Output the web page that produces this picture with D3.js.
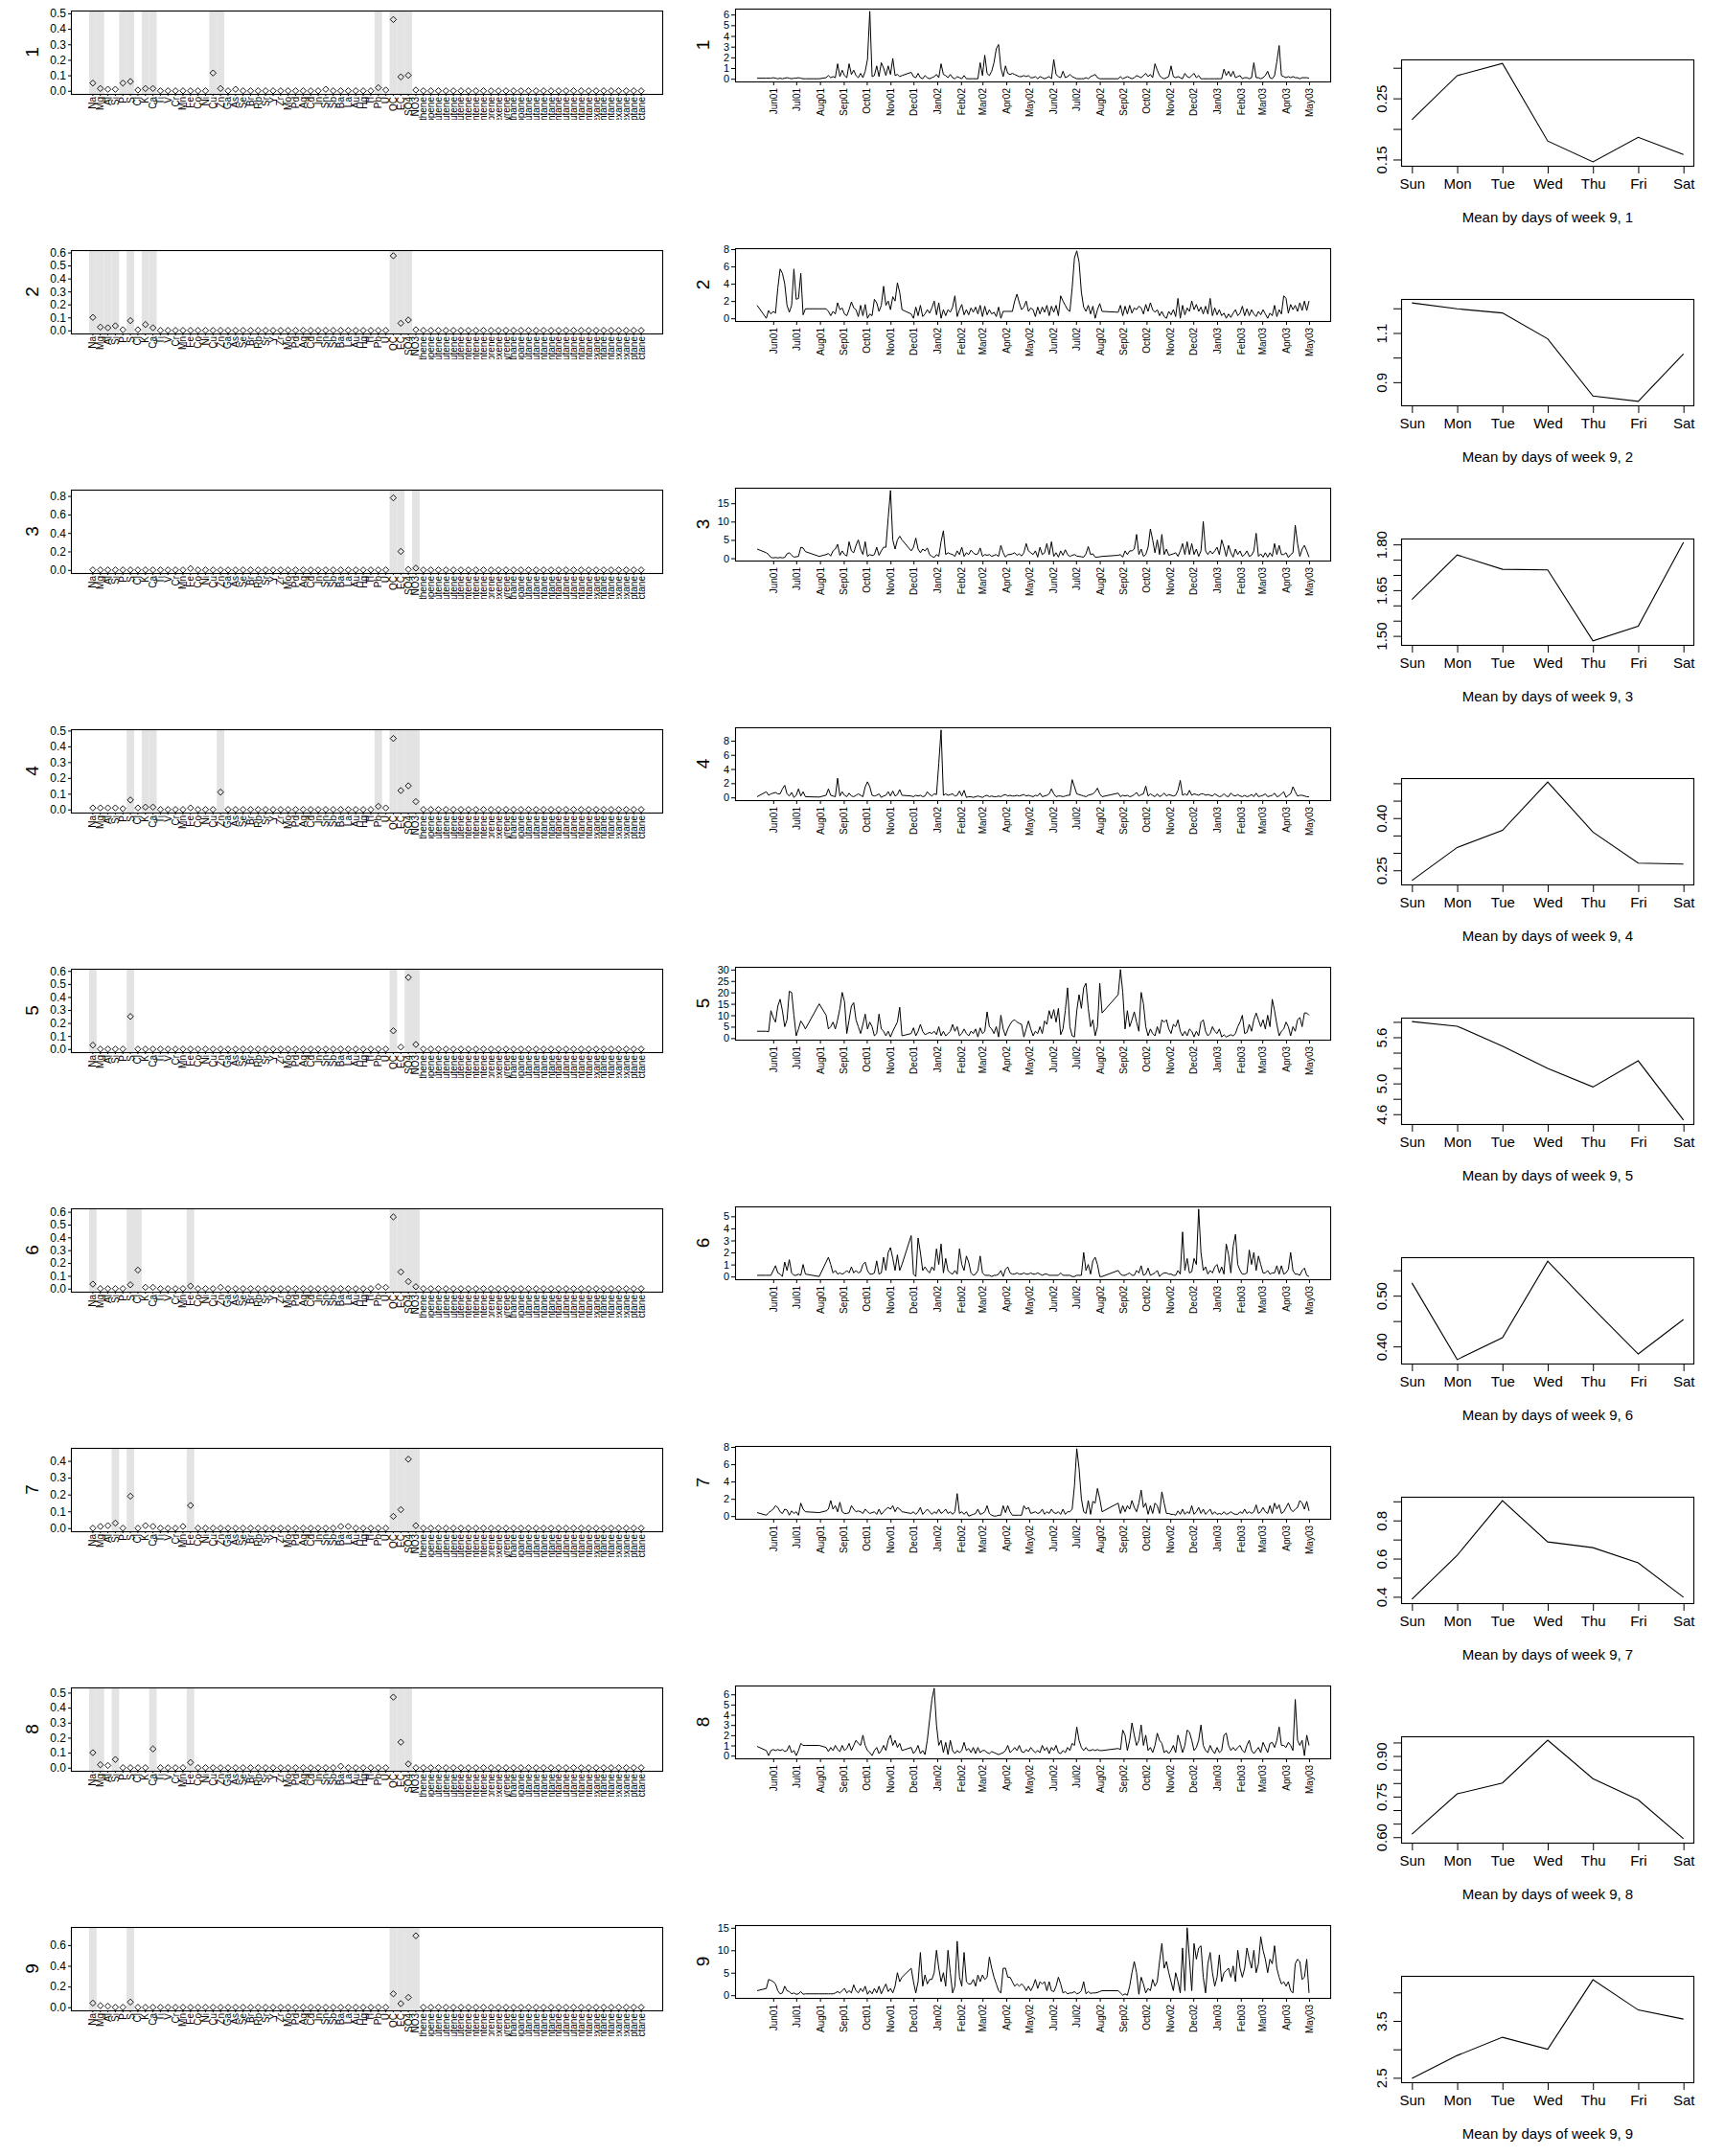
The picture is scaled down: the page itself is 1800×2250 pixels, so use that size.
<!DOCTYPE html>
<html><head><meta charset="utf-8">
<script src="https://cdn.jsdelivr.net/npm/d3@7"></script>
<style>
html,body{margin:0;padding:0;background:#fff;}
svg{display:block;font-family:"Liberation Sans",Arial,Helvetica,sans-serif;}
</style></head><body>
<svg id="chart" width="1800" height="2250"></svg>
<script>
// ---------------- DATA ----------------
const factorNames = ["1","2","3","4","5","6","7","8","9"];

const species = ["Na","Mg","Al","Si","P","S","Cl","K","Ca",
  "Ti","V","Cr","Mn","Fe","Co","Ni",
  "Cu","Zn","Ga","As",
  "Se","Br","Rb","Sr","Y","Zr","Mo","Pd","Ag","Cd",
  "In","Sn","Sb","Ba","La","Au","Hg","Tl","Pb","U",
  "OC","EC","SO4","NO3",
  "ethene","propene","1-butene","isobutene","t-2-butene","c-2-butene","1-pentene","t-2-pentene","c-2-pentene","isoprene",
  "1-hexene","styrene","ethane","propane","isobutane","n-butane","isopentane","n-pentane","cyclopentane","2,2-dimethylbutane",
  "2,3-dimethylbutane","2-methylpentane","3-methylpentane","n-hexane","methylcyclopentane","2,4-dimethylpentane","cyclohexane","2-methylhexane","n-heptane","n-octane"];

// factor profiles (fraction of species), one array per factor
const profile1 = [.05,.015,.01,.01,.05,.06,.005,.015,.015, 0,0,0,0,0,0,0, .115,.015,0,.01, 0,0,0,0,0,0,0,0,0,0, 0,.01,0,0,0,0,0,0,.02,.005, .46,.09,.10,.005,
  0,0,0,0,0,0,0,0,0,0, 0,0,0,0,0,0,0,0,0,0, 0,0,0,0,0,0,0,0,0,0];
const profile2 = [.10,.025,.02,.035,.005,.075,.005,.045,.02, 0,0,0,0,0,0,0, 0,0,0,0, 0,0,0,0,0,0,0,0,0,0, 0,0,0,0,0,0,0,0,0,0, .575,.055,.08,.005,
  0,0,0,0,0,0,0,0,0,0, 0,0,0,0,0,0,0,0,0,0, 0,0,0,0,0,0,0,0,0,0];
const profile3 = [0,0,0,0,0,0,0,0,0, 0,0,0,0,.015,0,0, 0,0,0,0, 0,0,0,0,0,0,0,0,0,0, 0,0,0,0,0,0,0,0,0,0, .78,.20,.005,.02,
  0,0,0,0,0,0,0,0,0,0, 0,0,0,0,0,0,0,0,0,0, 0,0,0,0,0,0,0,0,0,0];
const profile4 = [.01,.01,.01,.01,.005,.06,.01,.015,.015, 0,0,0,0,.01,0,0, 0,.11,0,0, 0,0,0,0,0,0,0,0,0,0, 0,0,0,0,0,0,0,0,.02,.01, .45,.12,.15,.05,
  0,0,0,0,0,0,0,0,0,0, 0,0,0,0,0,0,0,0,0,0, 0,0,0,0,0,0,0,0,0,0];
const profile5 = [.03,0,0,0,0,.25,0,0,0, 0,0,0,0,0,0,0, 0,0,0,0, 0,0,0,0,0,0,0,0,0,0, 0,0,0,0,0,0,0,0,0,0, .14,.015,.55,.035,
  0,0,0,0,0,0,0,0,0,0, 0,0,0,0,0,0,0,0,0,0, 0,0,0,0,0,0,0,0,0,0];
const profile6 = [.035,0,0,0,0,.03,.145,.01,.01, 0,0,0,0,.02,0,0, 0,.01,0,0, 0,0,0,0,0,0,0,0,0,0, 0,0,0,0,0,0,0,0,.015,.01, .56,.13,.055,.015,
  0,0,0,0,0,0,0,0,0,0, 0,0,0,0,0,0,0,0,0,0, 0,0,0,0,0,0,0,0,0,0];
const profile7 = [0,.01,.015,.03,0,.19,0,.015,.01, 0,0,0,.01,.135,0,0, 0,0,0,0, 0,0,0,0,0,0,0,0,0,0, 0,0,0,.01,.01,0,0,0,0,0, .07,.11,.41,.015,
  0,0,0,0,0,0,0,0,0,0, 0,0,0,0,0,0,0,0,0,0, 0,0,0,0,0,0,0,0,0,0];
const profile8 = [.10,.02,.015,.055,0,0,0,0,.125, 0,0,0,0,.035,0,0, 0,0,0,0, 0,0,0,0,0,0,0,0,0,0, 0,0,0,.01,0,0,0,0,0,0, .47,.17,.025,0,
  0,0,0,0,0,0,0,0,0,0, 0,0,0,0,0,0,0,0,0,0, 0,0,0,0,0,0,0,0,0,0];
const profile9 = [.04,.015,.01,0,0,.05,0,0,0, 0,0,0,0,0,0,0, 0,0,0,0, 0,0,0,0,0,0,0,0,0,0, 0,0,0,0,0,0,0,0,0,0, .13,.035,.095,.69,
  0,0,0,0,0,0,0,0,0,0, 0,0,0,0,0,0,0,0,0,0, 0,0,0,0,0,0,0,0,0,0];
const profiles = [profile1,profile2,profile3,profile4,profile5,profile6,profile7,profile8,profile9];

// upper y limit of each profile panel
const profileYMax = [0.498,0.595,0.835,0.489,0.593,0.603,0.459,0.514,0.745];

// shaded (key) species per factor
const profileHighlights = [
  ["Na","Mg","P","S","K","Ca","Cu","Zn","Pb","OC","EC","SO4"],
  ["Na","Mg","Al","Si","S","K","Ca","OC","EC","SO4"],
  ["OC","EC","NO3"],
  ["S","K","Ca","Zn","Pb","OC","EC","SO4","NO3"],
  ["Na","S","OC","SO4","NO3"],
  ["Na","S","Cl","Fe","OC","EC","SO4","NO3"],
  ["Si","S","Fe","OC","EC","SO4","NO3"],
  ["Na","Mg","Si","Ca","Fe","OC","EC","SO4"],
  ["Na","S","OC","EC","SO4","NO3"]
];

// time series: samples every 3rd day starting 2001-05-11 (null = no sample)
const sampleStart = "2001-05-11";
const sampleStepDays = 3;
const monthTicks = ["2001-06-01","2001-07-01","2001-08-01","2001-09-01","2001-10-01","2001-11-01","2001-12-01",
  "2002-01-01","2002-02-01","2002-03-01","2002-04-01","2002-05-01","2002-06-01","2002-07-01","2002-08-01","2002-09-01",
  "2002-10-01","2002-11-01","2002-12-01","2003-01-01","2003-02-01","2003-03-01","2003-04-01","2003-05-01"];

const series1 = [
0.05,null,null,null,0.05,0.05,0.05,0.1,0.05,0,
0.05,0,0.05,0.1,0.05,0,0.05,0.05,0.1,0.05,
0,0,null,null,null,null,null,0,null,null,
0.1,0.3,0.1,0.2,0.1,1.4,0.2,0.8,0.3,0.1,
1.4,0.4,0.8,0.3,0.1,0.5,0.1,0.7,1.8,6.3,
0.2,0.3,1.2,0.2,1.5,1.0,0.3,1.2,0.4,1.9,
0.3,0.4,0.2,0.3,null,null,null,0.6,0.2,0.1,
0.5,0.1,0,0.3,0.1,0,0.1,0.2,0.4,0.1,
1.4,0.4,0.3,0.1,0.4,0.1,0,0.2,0.1,0,
0.3,0,0,0,0,0,0,1.5,0.3,2.2,
0.5,0.3,0.7,1.5,2.8,3.2,1.0,0.2,1.2,0.5,
0.4,0.5,0.4,0.3,0.2,0.2,0.3,0.2,0.3,0.1,
0.1,0.2,0,0.2,0.1,0,0.1,0.2,0,1.8,
0.4,0.2,0.1,0.7,0.1,0.2,0.4,0.2,0.1,0,
0,0,0,0.1,0,0.2,0.3,0.4,0.1,0,
0,null,null,null,null,null,null,0,0.2,0,
0.1,0.2,0.1,0,0.1,0.3,0.2,0.1,0.3,0.5,
0.2,0.4,0.1,1.4,0.8,0.3,0.1,0,0.1,0.2,
1.2,0.2,0.1,0.2,0.1,0,0.5,0.2,0.1,0.3,
0.5,0.1,0.3,0,0,0,0,0,0,0,
0,0,0,0.9,0.3,0.7,0.2,0.7,0.1,0.2,
0.3,0,0.1,0.1,0,0.1,1.5,0.1,0.1,0,
0.1,0.3,0.7,0.1,0,0.3,1.6,3.1,0.3,0.2,
0.1,0.2,0.1,0.2,0.1,0.1,0,0.1,0.1,0.1,
0.05];
const series2 = [
1.5,null,null,null,0.0,0.9,0.5,0.8,0.6,3.5,
5.7,5.2,4.0,1.5,0.7,1.5,5.7,2.2,2.3,5.2,
0.4,1.1,null,null,null,null,null,1.1,null,null,
1.1,0.8,0.3,0.8,0.5,1.8,1.0,1.2,0.5,0.3,
1.0,1.9,1.2,1.0,0.2,1.5,0.3,1.6,0.0,0.5,
0.3,2.2,1.8,0.8,1.5,3.7,1.5,2.0,1.0,2.5,
2.0,4.1,3.0,1.0,null,null,null,0.5,0.0,1.3,
0.3,1.5,0.2,0.5,1.0,0.6,1.2,2.0,0.4,1.8,
0.0,1.0,0.3,1.0,0.7,1.3,2.6,0.2,1.0,1.6,
0.4,1.0,0.4,1.2,0.7,1.3,0.5,1.5,0.2,1.4,
0.4,1.0,0.5,0.7,0.2,1.3,0.0,0.8,0.8,0.8,
0.8,0.8,2.0,2.8,1.8,1.0,1.3,2.0,0.8,1.2,
1.0,0.2,1.3,0.5,1.3,0.7,1.5,0.3,1.4,0.7,
1.5,0.3,2.6,2.0,1.5,1.0,0.8,3.5,7.0,7.8,
6.5,3.0,1.3,0.8,1.5,0.5,1.4,0.0,1.0,1.7,
0.8,null,null,null,null,null,null,0.7,1.5,0.3,
1.4,0.5,1.5,0.6,1.2,1.0,1.4,1.2,0.5,1.6,
0.8,1.8,1.0,0.7,1.0,0.3,0.8,0.2,0.0,0.8,
0.4,1.0,0.2,2.3,0.0,1.5,0.4,1.2,0.8,2.0,
1.0,1.6,0.8,1.3,0.5,1.4,0.5,2.3,0.3,1.2,
0.4,1.0,0.3,0.6,0.0,0.5,0.1,0.6,1.0,0.3,
0.6,1.4,0.3,1.1,0.3,1.0,0.5,0.2,0.8,0.4,
1.0,0.5,0.0,0.6,0.3,1.5,0.2,1.0,0.5,2.6,
2.3,0.6,1.6,1.0,1.5,0.8,1.8,0.9,2.0,0.9,
2.0];
const series3 = [
2.5,null,null,null,1.5,1.0,0.2,0.1,0.2,0.1,
0.2,0.1,0.2,1.2,1.5,0.8,0.3,0.4,0.5,3.0,
2.8,1.8,null,null,null,null,null,0.5,null,null,
1.0,1.3,0.6,2.0,2.5,3.8,0.8,2.0,1.0,0.6,
4.5,2.0,1.5,3.5,5.0,2.5,1.0,4.5,0.5,1.0,
0.7,1.0,3.0,0.8,2.0,3.0,3.0,11.0,18.5,5.0,
2.5,5.0,6.0,5.0,null,null,null,2.0,3.0,5.5,
2.5,1.5,2.5,2.0,2.8,1.0,0.5,0.2,1.0,0.5,
4.5,7.5,1.0,1.5,1.2,1.0,0.5,2.0,1.0,3.0,
0.5,1.5,1.0,2.2,1.5,1.0,1.2,2.8,0.5,1.0,
0.8,1.0,0.5,0.8,1.0,0.5,3.5,1.5,0.3,1.0,
1.0,1.2,1.5,0.8,1.2,0.6,1.5,4.0,2.0,1.5,
1.0,2.0,0.3,3.0,1.0,1.5,4.0,1.0,4.5,0.5,
1.5,0.3,2.0,0.8,2.3,1.0,0.5,0.8,1.0,0.6,
0.5,0.4,0.3,1.2,3.2,1.0,1.2,0.3,0.3,0.4,
0.5,null,null,null,null,null,null,0.8,1.0,0.3,
2.0,1.0,2.0,2.0,2.5,6.5,1.0,2.5,0.5,1.0,
3.0,8.0,5.0,1.5,5.0,1.0,6.5,1.0,2.5,0.8,
1.0,1.2,1.5,0.5,2.0,4.0,1.0,4.5,1.0,4.0,
1.0,2.5,0.5,2.0,10.0,2.0,1.0,2.0,1.2,2.0,
3.0,1.0,5.0,3.0,0.5,3.5,1.5,0.3,2.5,1.0,
2.0,0.5,1.0,2.0,0.5,0.8,2.0,6.8,0.5,1.2,
0.3,1.5,0.3,1.5,0.5,4.0,1.0,3.5,1.0,1.0,
1.5,0.2,1.0,1.5,9.0,4.0,0.5,2.5,3.5,2.0,
0.3];
const series4 = [
0.1,null,null,null,0.8,0.3,0.5,0.6,0.7,0.5,
0.5,1.2,1.7,0.5,0.2,0.7,0.0,0.3,1.2,0.2,
0.8,0.1,null,null,null,null,null,0.05,null,null,
0.3,1.2,0.3,0.2,0.1,2.7,0.2,0.8,0.3,0.1,
0.6,0.2,0.1,0.3,0.5,0.3,0.1,1.5,2.2,1.5,
0.3,0.2,0.3,0.5,0.0,0.2,0.3,0.8,0.2,0.9,
0.2,0.4,1.1,0.3,null,null,null,0.2,0.1,0.3,
0.2,0.3,0.1,0.2,0.8,0.4,0.2,0.5,0.4,4.8,
9.5,0.3,0.5,0.3,0.4,0.5,0.2,0.3,0.9,0.2,
1.0,0.0,0.1,0.1,0.0,0.1,0.2,0.1,0.0,0.2,
0.3,0.1,0.2,0.1,0.1,0.2,0.1,0.3,0.4,0.2,
0.3,0.2,0.2,0.3,0.2,0.3,0.4,0.2,0.3,0.2,
0.1,0.3,0.2,0.6,0.1,0.2,0.3,0.5,1.2,0.5,
0.1,0.2,0.2,0.1,0.2,0.3,0.3,2.5,1.5,0.5,
0.4,0.3,0.2,0.1,0.3,0.4,0.5,0.8,1.3,0.5,
0.1,null,null,null,null,null,null,0.6,0.1,0.3,
0.2,0.3,0.1,0.2,0.4,0.7,0.2,0.4,0.5,1.6,
0.2,0.5,0.3,0.1,0.5,0.1,0.3,0.6,0.2,0.4,
0.3,0.2,0.3,1.0,2.4,0.3,0.5,0.3,1.0,0.3,
0.5,0.4,0.3,0.5,0.5,0.3,0.4,0.3,0.2,0.5,
0.3,0.1,0.2,0.5,0.2,0.1,0.6,0.3,0.2,0.4,
0.2,0.1,0.3,0.1,0.2,0.4,0.1,0.6,0.1,0.2,
0.3,0.5,0.1,0.2,0.3,0.6,0.1,0.2,0.5,0.8,
0.0,0.3,0.5,1.5,0.8,0.2,0.3,0.3,0.2,0.1,
0.1];
const series5 = [
3.0,null,null,null,3.0,2.8,12.0,9.0,7.0,14.0,
17.0,12.0,5.0,8.0,20.5,20.0,10.0,1.0,4.0,7.5,
6.0,4.0,null,null,null,null,null,15.0,null,null,
10.0,4.0,5.0,7.0,4.0,8.0,13.0,20.0,16.0,2.0,
8.0,14.0,15.5,8.0,5.0,2.0,6.0,10.5,4.0,7.0,
5.0,1.0,2.0,10.5,4.0,3.0,1.0,3.0,0.5,3.0,
5.0,7.0,13.5,1.0,null,null,null,2.0,4.5,1.0,
3.0,6.0,3.0,1.5,2.0,2.5,2.0,3.0,1.5,5.0,
1.0,3.0,1.0,2.0,3.0,6.0,3.0,5.0,1.0,2.0,
4.0,2.0,1.0,3.0,2.0,4.0,0.5,4.5,2.0,3.0,
11.5,5.0,4.0,2.0,5.0,0.5,10.0,4.0,1.0,4.0,
6.0,7.5,8.0,7.0,6.5,6.0,0.5,4.0,7.5,4.0,
1.0,3.0,2.0,5.0,2.0,7.5,6.0,12.0,8.5,12.5,
7.0,13.0,1.5,4.0,12.0,22.0,5.0,1.0,0.5,12.0,
19.0,13.0,22.0,24.0,13.0,5.0,8.0,1.0,5.0,24.0,
11.0,null,null,null,null,null,null,19.0,30.0,20.0,
4.0,12.0,5.0,8.0,11.5,7.0,3.0,20.0,15.0,5.0,
1.0,4.0,2.0,1.0,5.0,2.0,8.0,7.0,8.0,4.0,
2.0,6.0,5.0,8.0,3.0,1.0,3.0,1.0,4.0,3.0,
0.5,3.0,1.0,7.0,8.0,3.0,1.0,2.0,5.0,3.0,
2.0,4.0,0.5,1.5,0.5,1.0,1.5,1.0,2.0,5.0,
7.0,10.0,2.0,2.5,6.0,3.0,8.0,11.0,8.0,5.0,
8.0,4.0,10.0,5.0,17.0,12.0,6.0,1.0,3.0,4.0,
7.0,5.0,1.0,5.0,3.0,8.0,9.0,5.0,11.0,11.0,
10.0];
const series6 = [
0.1,null,null,null,0.1,0.1,0.1,0.5,0.9,0.3,
0.2,0.0,1.2,0.5,1.4,0.3,0.1,0.1,0.2,0.1,
1.0,0.2,null,null,null,null,null,0.0,null,null,
1.2,1.6,1.0,0.3,0.5,0.2,0.3,0.2,0.3,0.5,
0.3,0.8,0.3,0.5,0.3,0.4,1.0,1.2,0.5,0.2,
0.2,0.3,1.3,0.2,0.3,1.6,0.5,2.0,2.4,1.5,
0.5,1.8,0.5,1.0,null,null,null,3.4,0.2,0.0,
3.2,2.0,0.5,0.8,0.5,0.3,0.8,0.5,2.3,1.0,
2.7,0.3,1.5,0.5,0.3,0.2,0.5,0.2,2.3,1.0,
0.5,1.7,1.2,0.3,0.1,0.2,0.5,1.7,0.3,0.1,
0.1,0.1,0.0,0.1,0.1,0.2,0.5,0.0,0.6,0.8,
0.3,0.2,0.2,0.3,0.2,0.2,0.3,0.2,0.2,0.3,
0.2,0.2,0.3,0.2,0.1,0.2,0.2,0.1,0.1,0.1,
0.1,0.1,0.3,0.1,0.1,0.1,0.1,0.0,0.0,0.1,
0.1,0.1,2.0,0.5,1.0,0.2,1.3,1.6,1.0,0.0,
0.0,null,null,null,null,null,null,0.5,0.2,0.1,
0.1,0.2,0.3,0.1,0.1,0.5,0.3,0.9,0.1,0.2,
0.7,0.1,0.2,0.3,0.5,0.0,0.2,0.3,0.3,0.2,
0.2,0.1,0.1,0.5,0.2,3.7,0.5,1.5,0.3,0.4,
1.5,1.0,5.6,2.0,0.5,0.8,0.2,0.5,0.3,0.8,
1.0,0.3,0.8,0.2,2.7,1.8,0.3,2.5,3.5,1.0,
0.5,0.2,0.2,0.3,2.2,1.0,2.0,0.5,1.7,1.0,
0.3,0.3,0.5,0.2,0.3,0.3,0.9,0.2,0.9,0.2,
0.3,0.6,2.0,0.5,0.2,0.2,0.1,0.5,0.7,0.1,
0.0];
const series7 = [
0.4,null,null,null,0.1,0.4,0.6,0.8,1.2,1.0,
0.5,0.3,0.8,0.7,0.1,0.6,0.3,0.5,0.1,1.5,
0.8,0.5,null,null,null,null,null,0.4,null,null,
0.6,0.8,1.8,0.8,1.2,0.5,1.6,0.5,0.3,0.3,
0.4,1.2,0.8,0.5,0.6,0.5,0.3,0.8,0.5,0.3,
0.4,0.5,0.2,0.8,0.2,0.5,0.8,1.0,0.8,1.2,
0.5,1.0,0.8,0.5,null,null,null,0.3,0.5,0.2,
0.5,1.0,0.2,0.5,0.8,0.5,0.2,0.5,0.3,0.8,
0.3,0.5,0.8,0.3,0.5,0.2,0.5,2.6,0.3,0.5,
0.2,0.5,0.0,0.1,0.2,0.3,0.8,0.2,0.3,0.5,
1.2,0.3,0.1,0.0,0.0,0.1,0.1,1.2,0.4,1.2,
0.5,0.1,0.1,0.1,0.1,0.1,1.2,0.8,1.0,0.3,
0.4,0.5,0.3,0.4,0.8,0.2,0.5,0.3,0.8,0.4,
0.3,0.5,0.2,0.8,0.2,0.5,0.5,0.8,3.5,7.8,
5.5,2.0,0.5,0.3,1.8,0.2,1.7,1.5,3.2,2.0,
0.5,null,null,null,null,null,null,1.5,0.3,1.2,
0.5,1.2,0.8,1.8,1.0,0.5,1.5,3.0,1.0,1.5,
0.2,1.2,0.3,1.5,1.2,0.3,2.8,1.5,0.3,0.3,
0.2,0.2,0.1,0.6,0.2,0.8,0.2,0.5,0.3,1.2,
0.2,0.5,1.0,0.3,0.8,0.2,0.5,0.8,0.2,0.5,
0.2,0.3,0.2,0.5,0.2,0.3,0.5,0.3,0.2,0.2,
0.5,0.3,0.8,0.3,0.5,0.3,0.5,1.3,0.3,0.5,
1.0,0.5,0.3,1.2,0.3,1.5,0.8,1.3,0.3,0.5,
1.0,1.5,0.8,0.5,0.8,1.0,1.8,1.5,0.8,1.7,
0.6];
const series8 = [
0.9,null,null,null,0.5,0.0,0.5,0.6,0.5,0.6,
0.5,0.6,0.4,0.5,1.0,0.3,0.5,0.0,0.5,1.2,
1.0,1.0,null,null,null,null,null,1.0,null,null,
0.8,0.4,0.8,0.5,1.0,0.6,0.4,1.0,0.5,0.7,
1.2,0.5,1.0,1.5,1.2,1.0,2.0,1.0,0.5,0.3,
0.0,0.5,0.8,0.2,0.5,1.0,0.5,1.5,2.0,1.0,
1.5,0.8,1.2,0.5,null,null,null,0.8,0.2,0.5,
1.0,0.2,0.5,0.1,1.5,3.5,5.5,6.6,3.0,1.0,
1.5,0.3,1.3,0.1,1.5,0.5,0.2,0.5,0.3,0.5,
1.3,0.5,0.7,0.3,0.8,0.2,0.8,0.3,0.5,0.5,
0.3,0.2,0.4,0.3,0.2,0.1,0.2,0.3,0.5,1.0,
0.3,0.5,0.8,0.5,1.0,0.4,0.3,0.6,0.4,0.8,
0.5,0.3,0.5,0.3,1.0,0.5,0.8,0.2,0.8,0.5,
1.0,0.3,0.2,0.5,0.3,0.8,0.5,1.2,1.0,2.8,
1.5,0.8,0.5,0.8,0.5,0.5,0.6,0.5,0.6,0.5,
0.5,null,null,null,null,null,null,0.7,0.6,2.5,
2.0,0.5,1.5,3.2,2.0,1.0,1.5,3.0,1.0,2.0,
0.5,0.8,0.3,1.0,2.2,1.5,1.2,0.3,0.5,0.2,
0.5,1.0,0.3,2.0,1.2,0.3,1.0,2.5,2.3,1.5,
0.5,0.8,1.5,3.0,1.0,0.5,0.3,1.0,0.5,0.2,
0.8,0.3,0.5,2.0,2.2,1.0,0.5,0.8,0.5,0.8,
1.0,0.5,0.3,1.0,1.5,0.5,0.2,0.5,0.8,0.3,
1.3,0.8,0.3,1.2,1.3,0.8,1.5,2.8,1.0,1.0,
0.8,1.3,1.0,0.5,5.5,1.5,1.0,1.5,0.0,2.0,
1.0];
const series9 = [
1.0,null,null,null,1.5,3.5,3.3,3.0,2.5,1.0,
0.3,0.5,2.0,1.0,0.8,0.3,0.5,0.2,0.3,0.8,
0.2,0.3,null,null,null,null,null,0.3,null,null,
0.3,0.3,0.3,0.3,0.5,0.8,0.5,1.0,1.5,0.5,
1.0,0.5,2.3,1.0,0.5,1.5,0.8,2.0,0.2,1.0,
0.3,1.5,0.5,2.0,0.3,1.5,2.5,0.8,1.5,0.5,
2.0,5.0,3.0,4.0,null,null,null,6.0,3.0,0.5,
3.0,9.5,2.0,4.5,2.5,3.5,3.5,5.0,10.0,6.0,
3.0,5.0,2.0,10.0,5.0,0.5,2.0,12.0,4.0,2.0,
9.5,3.0,2.5,2.5,3.5,2.0,4.5,3.0,4.5,3.5,
4.0,8.5,6.0,4.0,2.5,1.0,0.5,6.0,6.0,4.0,
4.0,3.0,2.0,2.5,2.0,2.5,2.0,1.0,2.0,1.0,
2.0,3.5,1.5,3.0,2.5,3.0,1.0,3.0,1.0,0.8,
2.0,4.0,2.5,0.5,0.8,0.3,0.5,0.5,0.8,0.3,
0.5,1.0,3.0,0.3,0.8,0.4,0.5,0.5,0.6,0.8,
1.0,null,null,null,null,null,null,1.0,0.5,0.0,
0.3,0.0,2.0,5.0,7.5,5.0,0.2,4.0,2.5,0.5,
1.5,1.0,3.5,2.0,3.0,7.5,11.5,6.0,7.5,5.0,
3.0,1.0,5.0,3.0,0.5,10.5,1.0,15.0,8.0,1.0,
11.5,8.0,10.5,11.0,4.0,0.5,7.0,9.5,5.0,2.0,
4.0,9.0,3.0,5.0,5.5,6.0,4.0,6.5,3.0,10.0,
6.0,4.0,6.0,10.5,8.0,6.0,10.0,5.0,7.0,13.0,
10.0,8.0,5.0,8.0,7.0,11.0,6.0,4.0,2.5,3.0,
2.0,3.0,1.0,0.5,7.0,8.0,7.5,3.5,4.0,8.0,
0.5];
const seriesList = [series1,series2,series3,series4,series5,series6,series7,series8,series9];
const seriesTickStep = [1,2,5,2,5,1,2,1,5];

// mean by day of week
const weekDays = ["Sun","Mon","Tue","Wed","Thu","Fri","Sat"];
const weekMeans = [
  [0.216,0.288,0.308,0.181,0.147,0.187,0.159],
  [1.224,1.200,1.183,1.078,0.846,0.824,1.017],
  [1.621,1.767,1.720,1.718,1.485,1.533,1.808],
  [0.222,0.317,0.366,0.505,0.361,0.272,0.269],
  [5.81,5.75,5.49,5.20,4.96,5.30,4.53],
  [0.526,0.375,0.418,0.569,0.476,0.386,0.454],
  [0.39,0.62,0.906,0.69,0.66,0.58,0.40],
  [0.613,0.762,0.802,0.96,0.818,0.74,0.596],
  [2.50,2.90,3.22,3.01,4.23,3.70,3.54]
];
const weekTicks = [
  [0.15,0.20,0.25,0.30],
  [0.9,1.0,1.1,1.2],
  [1.50,1.55,1.60,1.65,1.70,1.75,1.80],
  [0.25,0.30,0.35,0.40,0.45,0.50],
  [4.6,4.8,5.0,5.2,5.4,5.6,5.8],
  [0.40,0.45,0.50,0.55],
  [0.4,0.5,0.6,0.7,0.8,0.9],
  [0.60,0.65,0.70,0.75,0.80,0.85,0.90,0.95],
  [2.5,3.0,3.5,4.0]
];
const weekTickLabels = [
  ["0.15","0.25"],
  ["0.9","1.1"],
  ["1.50","1.65","1.80"],
  ["0.25","0.40"],
  ["4.6","5.0","5.6"],
  ["0.40","0.50"],
  ["0.4","0.6","0.8"],
  ["0.60","0.75","0.90"],
  ["2.5","3.5"]
];
const weekTitlePrefix = "Mean by days of week 9, ";

// ---------------- LAYOUT ----------------
const rowH = 250;
const L = {x0:74, x1:692, y0:11, y1:98};
const Mi = {x0:767, x1:1389, y0:9, y1:85};
const R = {x0:1462, x1:1768, y0:62, y1:173};
const FONT = '"Liberation Sans",Arial,Helvetica,sans-serif';

const svg = d3.select("#chart");
svg.append("defs");

const parseDay = d3.utcParse("%Y-%m-%d");
const startDate = parseDay(sampleStart);

function ext(lo, hi){ const d = (hi-lo)*0.04; return [lo-d, hi+d]; }

function styleAxis(g, size){
  g.select(".domain").remove();
  g.attr("font-family", FONT).attr("font-size", size);
  g.selectAll("line").attr("stroke","#000");
  g.selectAll("text").attr("fill","#000");
}

factorNames.forEach((name, r) => {
  const g = svg.append("g").attr("transform", `translate(0,${r*rowH})`);

  // ====== LEFT: profile ======
  {
    const n = species.length;
    const x = d3.scaleLinear().domain(ext(1, n)).range([L.x0, L.x1]);
    const M = profileYMax[r];
    const y = d3.scaleLinear().domain([-0.04*M, 1.04*M]).range([L.y1, L.y0]);
    const vals = profiles[r];
    const bw = x(1.5) - x(0.5);
    g.append("g").selectAll("rect").data(profileHighlights[r]).enter().append("rect")
      .attr("x", d => x(species.indexOf(d)+1) - bw/2)
      .attr("width", bw)
      .attr("y", L.y0).attr("height", L.y1 - L.y0)
      .attr("fill", "#e3e3e3");
    g.append("g").selectAll("path").data(vals).enter().append("path")
      .attr("d", "M0,-3.2L3.2,0L0,3.2L-3.2,0Z")
      .attr("transform", (d,i) => `translate(${x(i+1)},${y(d)})`)
      .attr("fill","none").attr("stroke","#000").attr("stroke-width",0.9);
    g.append("rect").attr("x",L.x0+0.5).attr("y",L.y0+0.5)
      .attr("width",L.x1-L.x0-1).attr("height",L.y1-L.y0)
      .attr("fill","none").attr("stroke","#000").attr("stroke-width",1.1);
    const ya = g.append("g").attr("transform",`translate(${L.x0},0)`)
      .call(d3.axisLeft(y).tickValues(d3.ticks(0, 1.04*M, 5)).tickFormat(d3.format(".1f")).tickSize(3).tickPadding(2));
    styleAxis(ya, 12);
    // category labels (clipped)
    const cid = "clipL" + r;
    svg.select("defs").append("clipPath").attr("id", cid).append("rect")
      .attr("x", 0).attr("y", r*rowH + L.y1 + 1).attr("width", 720).attr("height", 26);
    const lab = svg.append("g").attr("clip-path", `url(#${cid})`)
      .append("g").attr("transform", `translate(0,${r*rowH})`);
    lab.selectAll("text").data(species).enter().append("text")
      .attr("transform", (d,i) => `translate(${x(i+1)},${L.y1+3}) rotate(-90)`)
      .attr("text-anchor","end").attr("dy","0.35em")
      .attr("font-family", FONT).attr("font-size", 10).attr("fill","#000")
      .text(d => d);
    g.selectAll(null).data(species).enter().append("line")
      .attr("x1",(d,i)=>x(i+1)).attr("x2",(d,i)=>x(i+1))
      .attr("y1",L.y1).attr("y2",L.y1+2).attr("stroke","#000");
    g.append("text").attr("transform",`translate(40,${(L.y0+L.y1)/2}) rotate(-90)`)
      .attr("text-anchor","middle").attr("font-family",FONT).attr("font-size",19).text(name);
  }

  // ====== MIDDLE: time series ======
  {
    const vals = seriesList[r];
    const pts = vals.map((v,i) => ({d: d3.utcDay.offset(startDate, sampleStepDays*i), v}))
                    .filter(p => p.v !== null);
    const t0 = startDate, t1 = d3.utcDay.offset(startDate, sampleStepDays*(vals.length-1));
    const span = t1 - t0;
    const x = d3.scaleUtc().domain([new Date(+t0 - 0.04*span), new Date(+t1 + 0.04*span)]).range([Mi.x0, Mi.x1]);
    const vmin = d3.min(pts, p=>p.v), vmax = d3.max(pts, p=>p.v);
    const y = d3.scaleLinear().domain(ext(vmin, vmax)).range([Mi.y1, Mi.y0]);
    g.append("path").datum(pts)
      .attr("d", d3.line().x(p=>x(p.d)).y(p=>y(p.v)))
      .attr("fill","none").attr("stroke","#000").attr("stroke-width",1).attr("stroke-linejoin","round");
    g.append("rect").attr("x",Mi.x0+0.5).attr("y",Mi.y0+0.5)
      .attr("width",Mi.x1-Mi.x0-1).attr("height",Mi.y1-Mi.y0)
      .attr("fill","none").attr("stroke","#000").attr("stroke-width",1.1);
    const step = seriesTickStep[r];
    const yt = d3.range(0, y.domain()[1] + 1e-9, step);
    const ya = g.append("g").attr("transform",`translate(${Mi.x0},0)`)
      .call(d3.axisLeft(y).tickValues(yt).tickFormat(d3.format("d")).tickSize(4).tickPadding(2));
    styleAxis(ya, 11);
    const xa = g.append("g").attr("transform",`translate(0,${Mi.y1})`)
      .call(d3.axisBottom(x).tickValues(monthTicks.map(parseDay)).tickFormat(d3.utcFormat("%b%y")).tickSize(4));
    styleAxis(xa, 10);
    xa.selectAll("text").attr("transform","rotate(-90)").attr("text-anchor","end")
      .attr("x",-7).attr("y",0).attr("dy","0.35em");
    g.append("text").attr("transform",`translate(740,${(Mi.y0+Mi.y1)/2}) rotate(-90)`)
      .attr("text-anchor","middle").attr("font-family",FONT).attr("font-size",19).text(name);
  }

  // ====== RIGHT: day-of-week means ======
  {
    const vals = weekMeans[r];
    const x = d3.scaleLinear().domain(ext(1, 7)).range([R.x0, R.x1]);
    const y = d3.scaleLinear().domain(ext(d3.min(vals), d3.max(vals))).range([R.y1, R.y0]);
    g.append("path").datum(vals)
      .attr("d", d3.line().x((d,i)=>x(i+1)).y(d=>y(d)))
      .attr("fill","none").attr("stroke","#000").attr("stroke-width",1.1);
    g.append("rect").attr("x",R.x0+0.5).attr("y",R.y0+0.5)
      .attr("width",R.x1-R.x0-1).attr("height",R.y1-R.y0)
      .attr("fill","none").attr("stroke","#000").attr("stroke-width",1.1);
    const xa = g.append("g").attr("transform",`translate(0,${R.y1})`)
      .call(d3.axisBottom(x).tickValues(d3.range(1,8)).tickFormat(i=>weekDays[i-1]).tickSize(8).tickPadding(5));
    styleAxis(xa, 15);
    xa.selectAll("text").attr("dy","0.75em");
    g.append("g").selectAll("line").data(weekTicks[r]).enter().append("line")
      .attr("x1",R.x0).attr("x2",R.x0-8).attr("y1",d=>y(d)).attr("y2",d=>y(d)).attr("stroke","#000");
    g.append("g").selectAll("text").data(weekTickLabels[r]).enter().append("text")
      .attr("transform", d => `translate(${R.x0-15},${y(+d)}) rotate(-90)`)
      .attr("text-anchor","middle").attr("font-family",FONT).attr("font-size",15).text(d=>d);
    g.append("text").attr("x",(R.x0+R.x1)/2).attr("y",232)
      .attr("text-anchor","middle").attr("font-family",FONT).attr("font-size",15)
      .text(weekTitlePrefix + name);
  }
});
</script>
</body></html>
